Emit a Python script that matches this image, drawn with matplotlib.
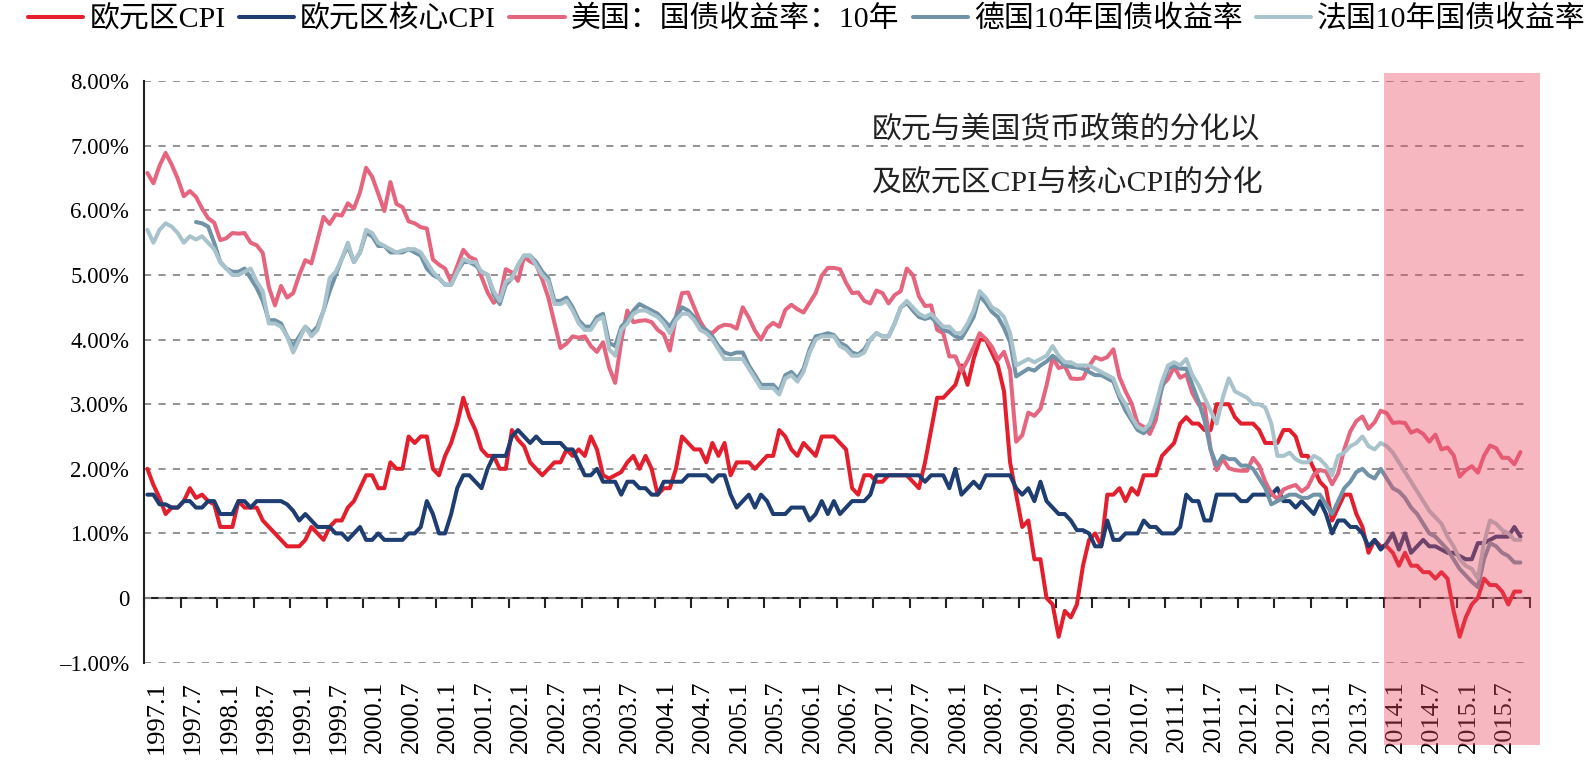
import matplotlib
matplotlib.use('Agg')
import matplotlib.pyplot as plt
import numpy as np
from matplotlib.patches import Rectangle

plt.rcParams['font.family'] = ['Liberation Serif', 'Noto Sans CJK SC']

nan = np.nan

# monthly data, 1997.1 - 2015.11 (%)
euro_cpi = [
    2.0, 1.75, 1.55, 1.3, 1.4, 1.4, 1.5, 1.7, 1.55, 1.6, 1.5, 1.45,   # 1997
    1.1, 1.1, 1.1, 1.5, 1.4, 1.4, 1.4, 1.2, 1.1, 1.0, 0.9, 0.8,       # 1998
    0.8, 0.8, 0.9, 1.1, 1.0, 0.9, 1.1, 1.2, 1.2, 1.4, 1.5, 1.7,       # 1999
    1.9, 1.9, 1.7, 1.7, 2.1, 2.0, 2.0, 2.5, 2.4, 2.5, 2.5, 2.0,       # 2000
    1.9, 2.2, 2.4, 2.7, 3.1, 2.8, 2.6, 2.3, 2.2, 2.2, 2.0, 2.0,       # 2001
    2.6, 2.45, 2.35, 2.1, 2.0, 1.9, 2.0, 2.1, 2.1, 2.3, 2.2, 2.3,     # 2002
    2.2, 2.5, 2.3, 1.9, 1.85, 1.9, 1.95, 2.1, 2.2, 2.0, 2.2, 2.0,     # 2003
    1.6, 1.7, 1.7, 2.0, 2.5, 2.4, 2.3, 2.3, 2.1, 2.4, 2.2, 2.4,       # 2004
    1.9, 2.1, 2.1, 2.1, 2.0, 2.1, 2.2, 2.2, 2.6, 2.5, 2.3, 2.2,       # 2005
    2.4, 2.3, 2.2, 2.5, 2.5, 2.5, 2.4, 2.3, 1.7, 1.6, 1.9, 1.9,       # 2006
    1.8, 1.8, 1.9, 1.9, 1.9, 1.9, 1.8, 1.7, 2.1, 2.6, 3.1, 3.1,       # 2007
    3.2, 3.3, 3.6, 3.3, 3.7, 4.0, 4.0, 3.8, 3.6, 3.2, 2.1, 1.6,       # 2008
    1.1, 1.2, 0.6, 0.6, 0.0, -0.1, -0.6, -0.2, -0.3, -0.1, 0.5, 0.9,  # 2009
    1.0, 0.8, 1.6, 1.6, 1.7, 1.5, 1.7, 1.6, 1.9, 1.9, 1.9, 2.2,       # 2010
    2.3, 2.4, 2.7, 2.8, 2.7, 2.7, 2.6, 2.6, 3.0, 3.0, 3.0, 2.8,       # 2011
    2.7, 2.7, 2.7, 2.6, 2.4, 2.4, 2.4, 2.6, 2.6, 2.5, 2.2, 2.2,       # 2012
    2.0, 1.8, 1.7, 1.2, 1.4, 1.6, 1.6, 1.3, 1.1, 0.7, 0.9, 0.8,       # 2013
    0.8, 0.7, 0.5, 0.7, 0.5, 0.5, 0.4, 0.4, 0.3, 0.4, 0.3, -0.2,      # 2014
    -0.6, -0.3, -0.1, 0.0, 0.3, 0.2, 0.2, 0.1, -0.1, 0.1, 0.1,        # 2015
]

euro_core = [
    1.6, 1.6, 1.45, 1.45, 1.4, 1.4, 1.5, 1.5, 1.4, 1.4, 1.5, 1.5,     # 1997
    1.3, 1.3, 1.3, 1.5, 1.5, 1.4, 1.5, 1.5, 1.5, 1.5, 1.5, 1.45,      # 1998
    1.35, 1.2, 1.3, 1.2, 1.1, 1.1, 1.1, 1.0, 1.0, 0.9, 1.0, 1.1,      # 1999
    0.9, 0.9, 1.0, 0.9, 0.9, 0.9, 0.9, 1.0, 1.0, 1.1, 1.5, 1.3,       # 2000
    1.0, 1.0, 1.3, 1.7, 1.9, 1.9, 1.8, 1.7, 2.0, 2.2, 2.2, 2.2,       # 2001
    2.5, 2.6, 2.5, 2.4, 2.5, 2.4, 2.4, 2.4, 2.4, 2.3, 2.3, 2.1,       # 2002
    1.9, 1.9, 2.0, 1.8, 1.8, 1.8, 1.6, 1.8, 1.8, 1.7, 1.7, 1.6,       # 2003
    1.6, 1.8, 1.8, 1.8, 1.8, 1.9, 1.9, 1.9, 1.9, 1.8, 1.9, 1.9,       # 2004
    1.6, 1.4, 1.5, 1.6, 1.4, 1.6, 1.5, 1.3, 1.3, 1.3, 1.4, 1.4,       # 2005
    1.4, 1.2, 1.3, 1.5, 1.3, 1.5, 1.3, 1.4, 1.5, 1.5, 1.5, 1.6,       # 2006
    1.9, 1.9, 1.9, 1.9, 1.9, 1.9, 1.9, 1.9, 1.8, 1.9, 1.9, 1.9,       # 2007
    1.7, 2.0, 1.6, 1.7, 1.8, 1.7, 1.9, 1.9, 1.9, 1.9, 1.9, 1.7,       # 2008
    1.6, 1.7, 1.5, 1.8, 1.5, 1.4, 1.3, 1.3, 1.2, 1.05, 1.05, 1.0,     # 2009
    0.8, 0.8, 1.2, 0.9, 0.9, 1.0, 1.0, 1.0, 1.2, 1.1, 1.1, 1.0,       # 2010
    1.0, 1.0, 1.1, 1.6, 1.5, 1.5, 1.2, 1.2, 1.6, 1.6, 1.6, 1.6,       # 2011
    1.5, 1.5, 1.6, 1.6, 1.6, 1.6, 1.7, 1.5, 1.5, 1.4, 1.5, 1.4,       # 2012
    1.3, 1.5, 1.3, 1.0, 1.2, 1.2, 1.1, 1.1, 1.0, 0.8, 0.9, 0.75,      # 2013
    0.85, 1.0, 0.75, 1.0, 0.7, 0.8, 0.9, 0.8, 0.8, 0.75, 0.7, 0.7,    # 2014
    0.65, 0.6, 0.6, 0.85, 0.85, 0.9, 0.95, 0.95, 0.95, 1.1, 0.95,     # 2015
]

us_10y = [
    6.58, 6.42, 6.69, 6.89, 6.71, 6.49, 6.22, 6.30, 6.21, 6.03, 5.88, 5.81,  # 1997
    5.54, 5.57, 5.65, 5.64, 5.65, 5.50, 5.46, 5.34, 4.81, 4.53, 4.83, 4.65,  # 1998
    4.72, 5.00, 5.23, 5.18, 5.54, 5.90, 5.79, 5.94, 5.92, 6.11, 6.03, 6.28,  # 1999
    6.66, 6.52, 6.26, 5.99, 6.44, 6.10, 6.05, 5.83, 5.80, 5.74, 5.72, 5.24,  # 2000
    5.16, 5.10, 4.89, 5.14, 5.39, 5.28, 5.24, 4.97, 4.73, 4.57, 4.65, 5.09,  # 2001
    5.04, 4.91, 5.28, 5.21, 5.16, 4.93, 4.65, 4.26, 3.87, 3.94, 4.05, 4.03,  # 2002
    4.05, 3.90, 3.81, 3.96, 3.57, 3.33, 3.98, 4.45, 4.27, 4.29, 4.30, 4.27,  # 2003
    4.15, 4.08, 3.83, 4.35, 4.72, 4.73, 4.50, 4.28, 4.13, 4.10, 4.19, 4.23,  # 2004
    4.22, 4.17, 4.50, 4.34, 4.14, 4.00, 4.18, 4.26, 4.20, 4.46, 4.54, 4.47,  # 2005
    4.42, 4.57, 4.72, 4.99, 5.11, 5.11, 5.09, 4.88, 4.72, 4.73, 4.60, 4.56,  # 2006
    4.76, 4.72, 4.56, 4.69, 4.75, 5.10, 5.00, 4.67, 4.52, 4.53, 4.15, 4.10,  # 2007
    3.74, 3.74, 3.51, 3.68, 3.88, 4.10, 4.01, 3.89, 3.69, 3.81, 3.53, 2.42,  # 2008
    2.52, 2.87, 2.82, 2.93, 3.29, 3.72, 3.56, 3.59, 3.40, 3.39, 3.40, 3.59,  # 2009
    3.73, 3.69, 3.73, 3.85, 3.42, 3.20, 3.01, 2.70, 2.65, 2.54, 2.76, 3.29,  # 2010
    3.39, 3.58, 3.41, 3.46, 3.17, 3.00, 3.00, 2.30, 1.98, 2.15, 2.01, 1.98,  # 2011
    1.97, 1.97, 2.17, 2.05, 1.80, 1.62, 1.53, 1.68, 1.72, 1.75, 1.65, 1.72,  # 2012
    1.91, 1.98, 1.96, 1.76, 1.93, 2.30, 2.58, 2.74, 2.81, 2.62, 2.72, 2.90,  # 2013
    2.86, 2.71, 2.72, 2.71, 2.56, 2.60, 2.54, 2.42, 2.53, 2.30, 2.33, 2.21,  # 2014
    1.88, 1.98, 2.04, 1.94, 2.20, 2.36, 2.32, 2.17, 2.17, 2.07, 2.26,        # 2015
]

de_10y = [
    nan, nan, nan, nan, nan, nan, nan, nan, 5.82, 5.8, 5.75, 5.5,     # 1997
    5.2, 5.1, 5.05, 5.05, 5.1, 4.95, 4.8, 4.6, 4.3, 4.3, 4.25, 4.05,  # 1998
    3.9, 4.05, 4.2, 4.1, 4.2, 4.45, 4.75, 5.0, 5.25, 5.45, 5.2, 5.35, # 1999
    5.65, 5.6, 5.45, 5.45, 5.35, 5.35, 5.35, 5.4, 5.35, 5.3, 5.1, 5.0,   # 2000
    4.95, 4.85, 4.85, 5.05, 5.2, 5.2, 5.15, 5.05, 5.0, 4.7, 4.55, 4.85,  # 2001
    4.95, 5.15, 5.3, 5.3, 5.2, 5.05, 4.95, 4.6, 4.6, 4.65, 4.5, 4.3,     # 2002
    4.2, 4.2, 4.35, 4.4, 3.95, 3.9, 4.2, 4.3, 4.45, 4.55, 4.5, 4.45,     # 2003
    4.4, 4.3, 4.2, 4.35, 4.5, 4.45, 4.35, 4.2, 4.15, 4.05, 3.9, 3.8,     # 2004
    3.77, 3.8, 3.8, 3.6, 3.45, 3.3, 3.3, 3.3, 3.2, 3.45, 3.5, 3.4,       # 2005
    3.55, 3.85, 4.05, 4.07, 4.1, 4.07, 3.95, 3.9, 3.8, 3.77, 3.85, 4.0,  # 2006
    4.1, 4.05, 4.05, 4.25, 4.5, 4.57, 4.45, 4.35, 4.32, 4.35, 4.25, 4.15,   # 2007
    4.12, 4.05, 4.02, 4.18, 4.35, 4.68, 4.57, 4.43, 4.35, 4.18, 3.96, 3.43, # 2008
    3.49, 3.55, 3.52, 3.6, 3.66, 3.75, 3.68, 3.6, 3.58, 3.57, 3.55, 3.5,    # 2009
    3.45, 3.45, 3.4, 3.35, 3.1, 2.9, 2.75, 2.6, 2.55, 2.65, 2.9, 3.25,   # 2010
    3.55, 3.6, 3.55, 3.55, 3.3, 3.05, 2.75, 2.3, 2.05, 2.2, 2.15, 2.15,  # 2011
    2.05, 2.05, 2.0, 1.85, 1.7, 1.45, 1.5, 1.55, 1.6, 1.6, 1.55, 1.55,  # 2012
    1.6, 1.6, 1.45, 1.3, 1.5, 1.7, 1.8, 1.95, 2.0, 1.9, 1.85, 2.0,      # 2013
    1.85, 1.7, 1.65, 1.55, 1.4, 1.3, 1.15, 1.0, 0.95, 0.85, 0.75, 0.6,  # 2014
    0.45, 0.35, 0.25, 0.17, 0.6, 0.85, 0.8, 0.7, 0.65, 0.55, 0.55,      # 2015
]

fr_10y = [
    5.7, 5.5, 5.7, 5.8, 5.75, 5.65, 5.5, 5.6, 5.55, 5.6, 5.5, 5.4,      # 1997
    5.2, 5.1, 5.0, 5.0, 5.05, 5.1, 4.9, 4.75, 4.25, 4.25, 4.2, 4.05,    # 1998
    3.8, 4.0, 4.2, 4.05, 4.15, 4.45, 4.95, 5.05, 5.25, 5.5, 5.2, 5.35,  # 1999
    5.7, 5.65, 5.5, 5.45, 5.4, 5.35, 5.38, 5.4, 5.4, 5.35, 5.2, 5.05,   # 2000
    4.95, 4.85, 4.85, 5.05, 5.25, 5.2, 5.2, 5.05, 5.0, 4.75, 4.6, 4.9,  # 2001
    4.95, 5.15, 5.3, 5.3, 5.15, 5.0, 4.9, 4.55, 4.55, 4.6, 4.45, 4.25,  # 2002
    4.15, 4.15, 4.3, 4.35, 3.85, 3.75, 4.15, 4.25, 4.4, 4.45, 4.45, 4.4,  # 2003
    4.35, 4.25, 4.1, 4.3, 4.4, 4.4, 4.3, 4.15, 4.1, 4.0, 3.85, 3.7,     # 2004
    3.7, 3.7, 3.7, 3.55, 3.4, 3.25, 3.25, 3.25, 3.15, 3.4, 3.45, 3.35,  # 2005
    3.5, 3.8, 4.0, 4.05, 4.05, 4.05, 3.9, 3.85, 3.75, 3.75, 3.8, 4.0,   # 2006
    4.1, 4.05, 4.05, 4.25, 4.5, 4.6, 4.5, 4.4, 4.35, 4.4, 4.3, 4.2,     # 2007
    4.2, 4.1, 4.1, 4.25, 4.45, 4.75, 4.65, 4.5, 4.45, 4.35, 4.1, 3.6,   # 2008
    3.65, 3.7, 3.65, 3.7, 3.75, 3.9, 3.75, 3.65, 3.65, 3.6, 3.6, 3.6,   # 2009
    3.55, 3.5, 3.45, 3.4, 3.15, 3.0, 2.8, 2.65, 2.6, 2.7, 3.0, 3.35,    # 2010
    3.6, 3.65, 3.6, 3.7, 3.45, 3.3, 3.1, 2.9, 2.7, 3.1, 3.4, 3.2,       # 2011
    3.15, 3.1, 3.0, 3.0, 2.95, 2.7, 2.2, 2.2, 2.25, 2.15, 2.1, 2.1,     # 2012
    2.2, 2.15, 2.05, 1.9, 2.2, 2.25, 2.35, 2.4, 2.5, 2.35, 2.3, 2.4,    # 2013
    2.35, 2.25, 2.1, 1.95, 1.8, 1.65, 1.5, 1.35, 1.25, 1.15, 0.95, 0.8, # 2014
    0.6, 0.5, 0.45, 0.3, 0.85, 1.2, 1.15, 1.05, 1.0, 0.9, 0.9,          # 2015
]

series_names = ['欧元区CPI', '欧元区核心CPI', '美国：国债收益率：10年',
                '德国10年国债收益率', '法国10年国债收益率']
series_colors = ['#e41f2d', '#1e3d70', '#e5657f', '#7093a8', '#a9c3cc']

tick_labels = ['1997.1', '1997.7', '1998.1', '1998.7', '1999.1', '1999.7',
               '2000.1', '2000.7', '2001.1', '2001.7', '2002.1', '2002.7',
               '2003.1', '2003.7', '2004.1', '2004.7', '2005.1', '2005.7',
               '2006.1', '2006.7', '2007.1', '2007.7', '2008.1', '2008.7',
               '2009.1', '2009.7', '2010.1', '2010.7', '2011.1', '2011.7',
               '2012.1', '2012.7', '2013.1', '2013.7', '2014.1', '2014.7',
               '2015.1', '2015.7']

y_ticks = [-1, 0, 1, 2, 3, 4, 5, 6, 7, 8]
y_labels = ['–1.00%', '0', '1.00%', '2.00%', '3.00%', '4.00%',
            '5.00%', '6.00%', '7.00%', '8.00%']

note_lines = ['欧元与美国货币政策的分化以', '及欧元区CPI与核心CPI的分化']

n_slots = 228          # monthly category slots on the axis (1997.1 - 2015.12)
shade_start = 204      # 2014.1

fig = plt.figure(figsize=(15.86, 7.72), dpi=100)
ax = fig.add_axes([0.0910, 0.1417, 0.8734, 0.7531])

x = np.arange(len(euro_cpi)) + 0.5
all_series = [euro_cpi, euro_core, us_10y, de_10y, fr_10y]
handles = []
for vals, name, col in zip(all_series, series_names, series_colors):
    h, = ax.plot(x, vals, color=col, lw=2.9, label=name,
                 solid_joinstyle='round', solid_capstyle='round', zorder=3)
    handles.append(h)

ax.set_xlim(0, n_slots)
ax.set_ylim(-1, 8)

ax.set_yticks(y_ticks)
ax.set_yticklabels(y_labels, fontsize=16.5)
ax.tick_params(axis='y', length=0, pad=11)
ax.yaxis.grid(True, color='#8a8a8a', linestyle=(0, (4, 4)), linewidth=1.3)
ax.set_axisbelow(True)

label_pos = np.arange(0, n_slots - 1, 6) + 2.0
ax.set_xticks(label_pos)
ax.set_xticklabels(tick_labels, rotation=90, fontsize=19)
ax.tick_params(axis='x', length=0, pad=13)

for side in ['top', 'right', 'bottom']:
    ax.spines[side].set_visible(False)
ax.spines['left'].set_linewidth(1.5)
ax.spines['left'].set_color('#222222')

# zero line with the month ticks
zero_ax = ax.secondary_xaxis(1 / 9)
zero_ax.set_xticks(np.arange(0, n_slots + 1, 6))
zero_ax.tick_params(direction='out', length=7, width=1.5, labelbottom=False,
                    color='#222222')
zero_ax.spines['bottom'].set_linewidth(1.5)
zero_ax.spines['bottom'].set_color('#222222')

ax.text(119.8, 7.25, note_lines[0], fontsize=21.5, ha='left', va='center',
        color='#222222')
ax.text(119.8, 6.42, note_lines[1], fontsize=21.5, ha='left', va='center',
        color='#222222')

# shaded period drawn over everything
fig.add_artist(Rectangle((shade_start, -2.28), 25.7, 10.4,
                         transform=ax.transData, facecolor='#ea4c62',
                         alpha=0.4, edgecolor='none', zorder=5))

fig.legend(handles=handles, loc='center left',
           bbox_to_anchor=(0.0177, 1 - 19 / 772), ncol=5, frameon=False,
           fontsize=21.5, handlelength=1.85, handletextpad=0.2,
           columnspacing=0.45, borderaxespad=0, borderpad=0)

fig.savefig('out.png', dpi=100)
